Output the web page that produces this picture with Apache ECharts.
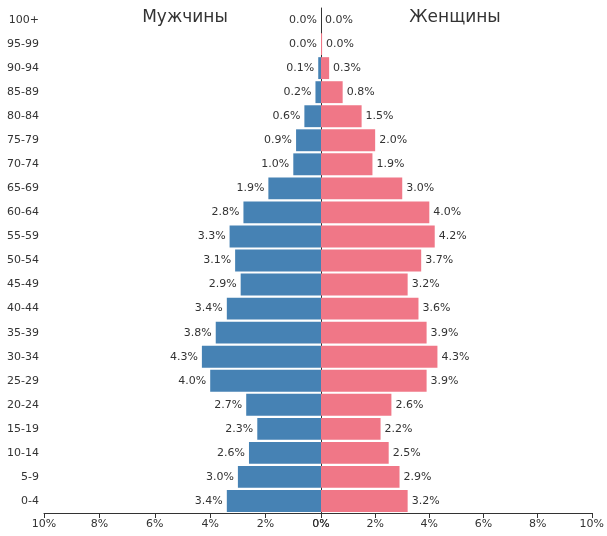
<!DOCTYPE html>
<html><head><meta charset="utf-8">
<script src="https://cdn.jsdelivr.net/npm/echarts@6/dist/echarts.min.js"></script>
<style>html,body{margin:0;padding:0;background:#fff}#c{width:607px;height:536px}</style>
</head><body><div id="c"></div>
<script>
const ageGroups = ['100+','95-99','90-94','85-89','80-84','75-79','70-74','65-69','60-64','55-59','50-54','45-49','40-44','35-39','30-34','25-29','20-24','15-19','10-14','5-9','0-4'];
const male =   [0.0, 0.0, 0.1, 0.2, 0.6, 0.9, 1.0, 1.9, 2.8, 3.3, 3.1, 2.9, 3.4, 3.8, 4.3, 4.0, 2.7, 2.3, 2.6, 3.0, 3.4];
const female = [0.0, 0.04, 0.3, 0.8, 1.5, 2.0, 1.9, 3.0, 4.0, 4.2, 3.7, 3.2, 3.6, 3.9, 4.3, 3.9, 2.6, 2.2, 2.5, 2.9, 3.2];
const titles = ['Мужчины', 'Женщины'];

const font = 'DejaVu Sans';
const chart = echarts.init(document.getElementById('c'));
const axisLine = {show:true, lineStyle:{color:'#333', width:1}};
const xLabel = {color:'#333', fontFamily:font, fontSize:11, formatter: v => v + '%', margin:6};
chart.setOption({
  animation:false,
  textStyle:{fontFamily:font},
  title:[
    {text:titles[0], left:180, top:4, textAlign:'center', textStyle:{fontFamily:font, fontSize:17, fontWeight:'normal', color:'#333'}},
    {text:titles[1], left:450, top:4, textAlign:'center', textStyle:{fontFamily:font, fontSize:17, fontWeight:'normal', color:'#333'}}
  ],
  grid:[
    {left:44, width:277, top:8, height:505},
    {left:321, width:272, top:8, height:505}
  ],
  xAxis:[
    {gridIndex:0, type:'value', min:0, max:10, interval:2, inverse:true, axisLine:axisLine,
     axisTick:{show:true, length:5, lineStyle:{color:'#333'}}, splitLine:{show:false}, axisLabel:xLabel},
    {gridIndex:1, type:'value', min:0, max:10, interval:2, axisLine:axisLine,
     axisTick:{show:true, length:5, lineStyle:{color:'#333'}}, splitLine:{show:false}, axisLabel:xLabel}
  ],
  yAxis:[
    {gridIndex:0, type:'category', data:ageGroups, inverse:true, position:'left',
     axisLine:axisLine, axisTick:{show:false}, axisLabel:{color:'#333', fontFamily:font, fontSize:11, margin:5}},
    {gridIndex:1, type:'category', data:ageGroups, inverse:true,
     axisLine:{show:false}, axisTick:{show:false}, axisLabel:{show:false}}
  ],
  series:[
    {type:'bar', xAxisIndex:0, yAxisIndex:0, data:male, barCategoryGap:'9%',
     itemStyle:{color:'#4682B4'},
     label:{show:true, position:'left', distance:4, color:'#333', fontFamily:font, fontSize:11,
            formatter: p => p.value.toFixed(1) + '%'}},
    {type:'bar', xAxisIndex:1, yAxisIndex:1, data:female, barCategoryGap:'9%',
     itemStyle:{color:'#F07787'},
     label:{show:true, position:'right', distance:4, color:'#333', fontFamily:font, fontSize:11,
            formatter: p => p.value.toFixed(1) + '%'}}
  ]
});
</script></body></html>
